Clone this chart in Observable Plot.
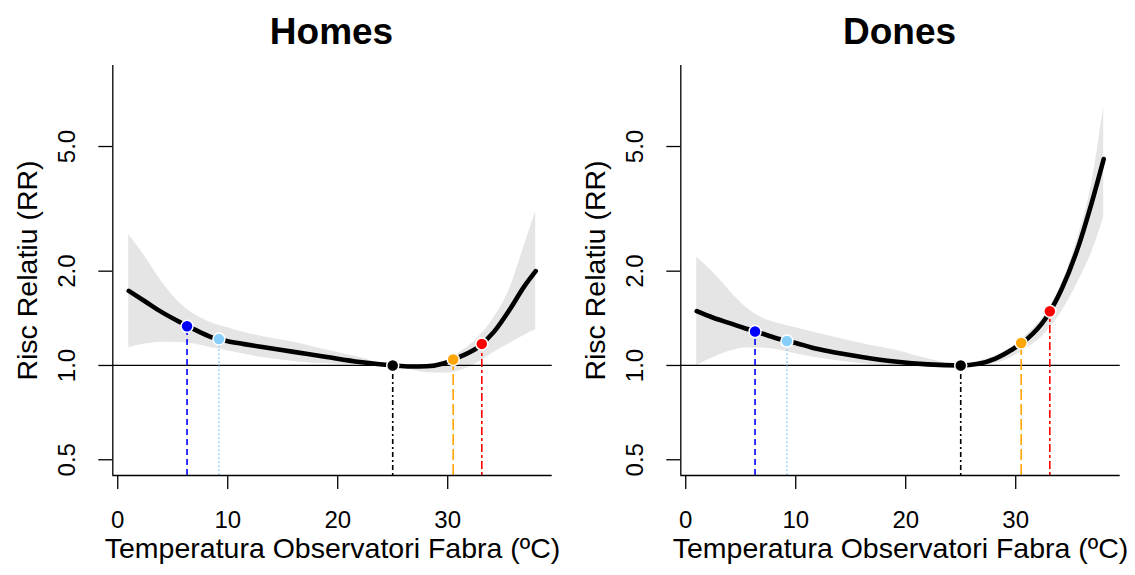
<!DOCTYPE html>
<html><head><meta charset="utf-8">
<script src="https://cdn.jsdelivr.net/npm/d3@7"></script>
<script src="https://cdn.jsdelivr.net/npm/@observablehq/plot@0.6"></script>
<style>
html,body{margin:0;padding:0;background:#fff;overflow:hidden}
#wrap{display:flex;width:1135px;height:575px}
</style></head><body><div id="wrap"></div>
<script>
// ---- data ----
const temps      = [1.0, 2.5, 4, 5.5, 7, 8.5, 10, 11.5, 13, 16, 19, 22, 25, 26.6, 28.1, 29.6, 31.1, 32.7, 34.2, 35.7, 36.9, 38.0];
const homesRR    = [1.73, 1.60, 1.48, 1.384, 1.301, 1.232, 1.195, 1.170, 1.147, 1.105, 1.064, 1.026, 1.0, 0.992, 0.994, 1.015, 1.065, 1.14, 1.28, 1.52, 1.776, 2.0];
const homesLow   = [1.14, 1.17, 1.187, 1.185, 1.17, 1.14, 1.115, 1.085, 1.063, 1.03, 1.012, 1.003, 1.0, 0.97, 0.948, 0.945, 0.962, 1.02, 1.10, 1.18, 1.245, 1.30];
const homesHigh  = [2.62, 2.22, 1.85, 1.60, 1.455, 1.37, 1.32, 1.275, 1.24, 1.187, 1.12, 1.06, 1.0, 1.0, 1.0, 1.025, 1.10, 1.22, 1.42, 1.78, 2.38, 3.1];
const donesRR    = [1.49, 1.42, 1.365, 1.31, 1.262, 1.215, 1.18, 1.14, 1.11, 1.065, 1.03, 1.008, 1.0, 1.012, 1.05, 1.12, 1.22, 1.41, 1.76, 2.4, 3.3, 4.56];
const donesLow   = [1.0, 1.06, 1.11, 1.138, 1.137, 1.12, 1.09, 1.065, 1.045, 1.013, 0.995, 0.99, 1.0, 1.0, 1.015, 1.06, 1.14, 1.27, 1.49, 1.86, 2.29, 2.97];
const donesHigh  = [2.215, 1.98, 1.73, 1.53, 1.415, 1.36, 1.32, 1.28, 1.245, 1.176, 1.12, 1.05, 1.0, 1.03, 1.07, 1.14, 1.26, 1.46, 1.83, 2.6, 3.8, 6.75];
const pointTemps   = [6.3, 9.2, 25.0, 30.5, 33.1];
const pointColors  = ["#0000FF", "#87CEFA", "#000000", "#FFA500", "#FF0000"];
const homesPointRR = [1.335, 1.214, 1.0, 1.045, 1.172];
const donesPointRR = [1.284, 1.197, 1.0, 1.179, 1.49];
const xTicks = [0, 10, 20, 30];
const yTicks = [0.5, 1, 2, 5];
const titles = ["Homes", "Dones"];
const xLabel = "Temperatura Observatori Fabra (ºC)";
const yLabel = "Risc Relatiu (RR)";

// ---- layout / style ----
const xDomain = [-0.45, 39.5];
const yDomain = [0.4454, 9.07];
const dashes = ["6,4", "1.5,2.5", "2,3,5,3", "11,4", "3,3,8,3"];
const FONT = "'Liberation Sans', Arial, Helvetica, sans-serif";

function panel(title, rr, low, high, pointRR, width, marginRight) {
  const curve = temps.map((t, i) => ({t, rr: rr[i], low: low[i], high: high[i]}));
  const pts = pointTemps.map((t, i) => ({t, rr: pointRR[i], color: pointColors[i]}));
  const marks = [
    Plot.areaY(curve, {x: "t", y1: "low", y2: "high", fill: "#E5E5E5", curve: "monotone-x"}),
    Plot.ruleY([1], {stroke: "black", strokeWidth: 1.3}),
    Plot.line(curve, {x: "t", y: "rr", stroke: "black", strokeWidth: 4.6, curve: "monotone-x"}),
    ...pts.map((p, i) => Plot.ruleX([p], {x: "t", y1: yDomain[0], y2: "rr", stroke: p.color, strokeWidth: 1.6, strokeDasharray: dashes[i]})),
    Plot.dot(pts, {x: "t", y: "rr", r: 6, fill: d => d.color, stroke: "white", strokeWidth: 1.5}),
    Plot.ruleX([xDomain[0]], {stroke: "black", strokeWidth: 1.3}),
    Plot.ruleY([yDomain[0]], {stroke: "black", strokeWidth: 1.3}),
    Plot.axisX({ticks: xTicks, tickSize: 14, tickPadding: 21, fontSize: 24, strokeWidth: 1.3, label: null}),
    Plot.axisY({ticks: yTicks, tickFormat: d3.format(".1f"), tickSize: 14, tickPadding: 31, tickRotate: -90,
                textAnchor: "middle", lineAnchor: "middle", fontSize: 24, strokeWidth: 1.3, label: null}),
    Plot.text([title], {text: d => d, frameAnchor: "top", dy: -33.5, dx: -1, lineAnchor: "middle", textAnchor: "middle", fontSize: 37, fontWeight: "bold"}),
    Plot.text([xLabel], {text: d => d, frameAnchor: "bottom", dy: 73, lineAnchor: "middle", textAnchor: "middle", fontSize: 28.5}),
    Plot.text([yLabel], {text: d => d, frameAnchor: "left", dx: -85, rotate: -90, lineAnchor: "middle", textAnchor: "middle", fontSize: 28.5})
  ];
  return Plot.plot({
    width, height: 575,
    marginTop: 65, marginBottom: 100, marginLeft: 112.3, marginRight,
    style: {fontFamily: FONT, background: "white", color: "black"},
    x: {domain: xDomain},
    y: {type: "log", domain: yDomain},
    marks
  });
}

const wrap = document.getElementById("wrap");
wrap.appendChild(panel(titles[0], homesRR, homesLow, homesHigh, homesPointRR, 568, 16.3));
wrap.appendChild(panel(titles[1], donesRR, donesLow, donesHigh, donesPointRR, 567, 15.3));
</script></body></html>
